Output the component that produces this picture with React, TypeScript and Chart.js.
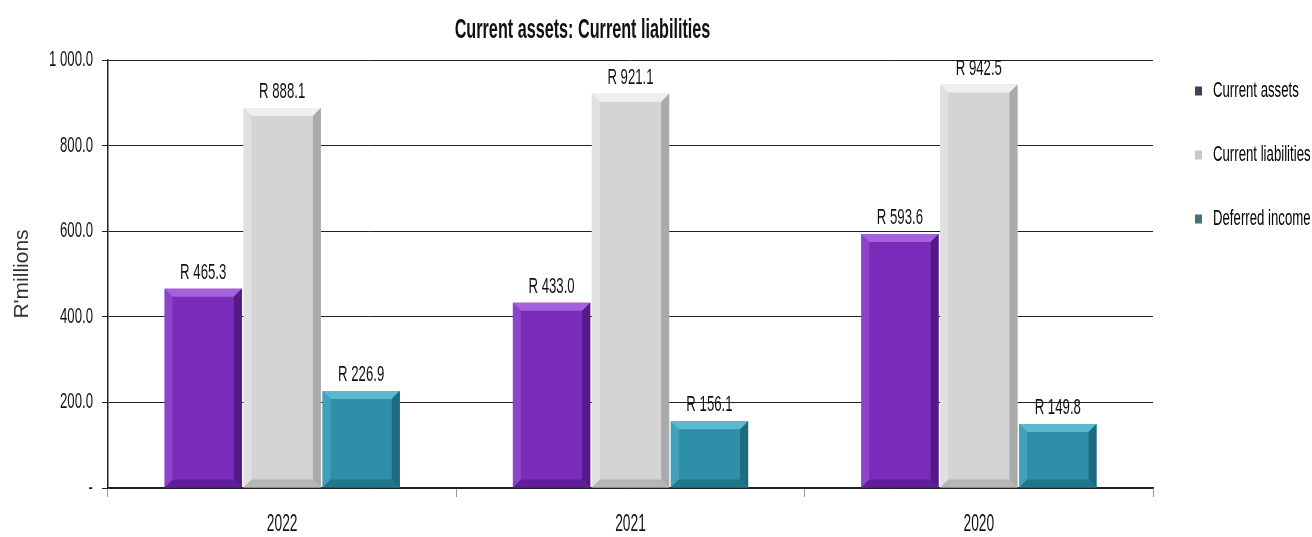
import React, { useEffect, useRef } from "react";
import { Chart, registerables } from "chart.js";

Chart.register(...registerables);

const categories = ["2022", "2021", "2020"];
const currentAssets = [465.3, 433.0, 593.6];
const currentLiabilities = [888.1, 921.1, 942.5];
const deferredIncome = [226.9, 156.1, 149.8];
const seriesNames = ["Current assets", "Current liabilities", "Deferred income"];
const yTicks = [0, 200, 400, 600, 800, 1000];
const titleText = "Current assets: Current liabilities";
const yTitle = "R'millions";

const FONT = "'Liberation Sans', Arial, sans-serif";
const SX = 0.6; // horizontal condensing of the text, as in the reference

const palette = [
  { main: "#7a2cba", light: "#a462dc", dark: "#56198a", legend: "#4a3a5a" },
  { main: "#d4d4d4", light: "#efefef", dark: "#aaaaaa", legend: "#c8c8c8" },
  { main: "#2f8fa9", light: "#5ab8cf", dark: "#1d6b80", legend: "#46707c" },
];

function fmtTick(v: number): string {
  if (v === 0) return "-";
  const s = v.toFixed(1);
  const [i, d] = s.split(".");
  return i.replace(/\B(?=(\d{3})+(?!\d))/g, " ") + "." + d;
}

function condenseText(ctx: any) {
  if (!ctx || ctx.__condensed) return;
  ctx.__condensed = true;
  const fill = ctx.fillText;
  const measure = ctx.measureText;
  ctx.fillText = function (text: string, x: number, y: number, maxWidth?: number) {
    const m = this.getTransform();
    if (Math.abs(m.b) > 1e-6 || Math.abs(m.c) > 1e-6) {
      return maxWidth === undefined ? fill.call(this, text, x, y) : fill.call(this, text, x, y, maxWidth);
    }
    this.save();
    this.translate(x, y);
    this.scale(SX, 1);
    if (maxWidth === undefined) fill.call(this, text, 0, 0);
    else fill.call(this, text, 0, 0, maxWidth / SX);
    this.restore();
  };
  ctx.measureText = function (text: string) {
    const m = measure.call(this, text);
    return {
      width: m.width * SX,
      actualBoundingBoxAscent: m.actualBoundingBoxAscent,
      actualBoundingBoxDescent: m.actualBoundingBoxDescent,
      actualBoundingBoxLeft: m.actualBoundingBoxLeft * SX,
      actualBoundingBoxRight: m.actualBoundingBoxRight * SX,
      fontBoundingBoxAscent: m.fontBoundingBoxAscent,
      fontBoundingBoxDescent: m.fontBoundingBoxDescent,
    };
  };
}

const bevelPlugin = {
  id: "bevel",
  afterDatasetsDraw(chart: any) {
    const ctx = chart.ctx;
    chart.data.datasets.forEach((ds: any, di: number) => {
      const meta = chart.getDatasetMeta(di);
      const c = palette[di];
      meta.data.forEach((bar: any) => {
        const { x, y, base, width } = bar.getProps(["x", "y", "base", "width"], true);
        const l = x - width / 2;
        const r = x + width / 2;
        const h = base - y;
        const b = Math.min(8, h / 4);
        ctx.save();
        ctx.fillStyle = c.light;
        ctx.beginPath();
        ctx.moveTo(l, y);
        ctx.lineTo(r, y);
        ctx.lineTo(r - b, y + b);
        ctx.lineTo(l + b, y + b);
        ctx.closePath();
        ctx.fill();
        ctx.fillStyle = c.dark;
        ctx.beginPath();
        ctx.moveTo(r, y);
        ctx.lineTo(r, base);
        ctx.lineTo(r - b, base - b);
        ctx.lineTo(r - b, y + b);
        ctx.closePath();
        ctx.fill();
        ctx.globalAlpha = 0.7;
        ctx.beginPath();
        ctx.moveTo(l, base);
        ctx.lineTo(r, base);
        ctx.lineTo(r - b, base - b);
        ctx.lineTo(l + b, base - b);
        ctx.closePath();
        ctx.fill();
        ctx.globalAlpha = 0.45;
        ctx.fillStyle = c.light;
        ctx.beginPath();
        ctx.moveTo(l, y);
        ctx.lineTo(l, base);
        ctx.lineTo(l + b, base - b);
        ctx.lineTo(l + b, y + b);
        ctx.closePath();
        ctx.fill();
        ctx.restore();
      });
    });
  },
  afterDraw(chart: any) {
    const ctx = chart.ctx;
    ctx.save();
    ctx.fillStyle = "#111";
    ctx.font = "22px " + FONT;
    ctx.textAlign = "center";
    ctx.textBaseline = "alphabetic";
    chart.data.datasets.forEach((ds: any, di: number) => {
      const meta = chart.getDatasetMeta(di);
      meta.data.forEach((bar: any, i: number) => {
        ctx.fillText("R " + ds.data[i].toFixed(1), bar.x, bar.y - 10);
      });
    });
    ctx.font = "bold 27px " + FONT;
    ctx.textBaseline = "middle";
    const cx = (chart.chartArea.left + chart.chartArea.right) / 2 - 48;
    ctx.fillText(titleText, cx, 31);
    ctx.restore();
  },
};

export default function App() {
  const ref = useRef<HTMLCanvasElement>(null);
  useEffect(() => {
    if (!ref.current) return;
    condenseText(ref.current.getContext("2d"));
    const chart = new Chart(ref.current, {
      type: "bar",
      data: {
        labels: categories,
        datasets: [currentAssets, currentLiabilities, deferredIncome].map((d, i) => ({
          label: seriesNames[i],
          data: d,
          backgroundColor: palette[i].main,
          borderWidth: 0,
          categoryPercentage: 0.68,
          barPercentage: 0.98,
        })),
      },
      plugins: [bevelPlugin],
      options: {
        animation: false,
        responsive: true,
        maintainAspectRatio: false,
        layout: { padding: { top: 38, right: 0, left: 0, bottom: 0 } },
        plugins: {
          title: { display: false },
          tooltip: { enabled: false },
          legend: {
            position: "right",
            align: "start",
            maxWidth: 159,
            labels: {
              boxWidth: 7,
              boxHeight: 9,
              padding: 42,
              color: "#111",
              font: { family: FONT, size: 22 },
              generateLabels: (chart: any) =>
                chart.data.datasets.map((ds: any, i: number) => ({
                  text: ds.label,
                  fillStyle: palette[i].legend,
                  strokeStyle: palette[i].legend,
                  lineWidth: 0,
                  datasetIndex: i,
                })),
            },
          },
        },
        scales: {
          x: {
            offset: true,
            grid: {
              offset: true,
              drawOnChartArea: false,
              drawTicks: true,
              tickLength: 9,
              color: "#999",
            },
            border: { color: "#222", width: 1.5 },
            ticks: {
              color: "#111",
              font: { family: FONT, size: 23 },
              padding: 14,
              maxRotation: 0,
            },
            afterFit: (s: any) => {
              s.height = 49;
            },
          },
          top: {
            type: "category",
            position: "top",
            labels: categories,
            grid: { display: false, drawTicks: false },
            border: { display: false },
            ticks: { display: false },
            afterFit: (s: any) => {
              s.height = 22;
            },
          },
          y: {
            min: 0,
            max: 1000,
            afterBuildTicks: (s: any) => {
              s.ticks = yTicks.map((v) => ({ value: v }));
            },
            grid: { color: "#222", lineWidth: 1, tickLength: 6 },
            border: { color: "#222", width: 1.5 },
            ticks: {
              color: "#111",
              font: { family: FONT, size: 22 },
              padding: 9,
              callback: (v: any) => fmtTick(Number(v)),
            },
            title: {
              display: true,
              text: yTitle,
              color: "#333",
              font: { family: FONT, size: 21 },
              padding: { top: 10, bottom: 0 },
            },
            afterFit: (s: any) => {
              s.width = 108;
            },
          },
        },
      },
    });
    return () => chart.destroy();
  }, []);
  return (
    <div style={{ position: "fixed", left: 0, top: 0, width: 1312, height: 537, background: "#fff" }}>
      <canvas ref={ref} />
    </div>
  );
}
